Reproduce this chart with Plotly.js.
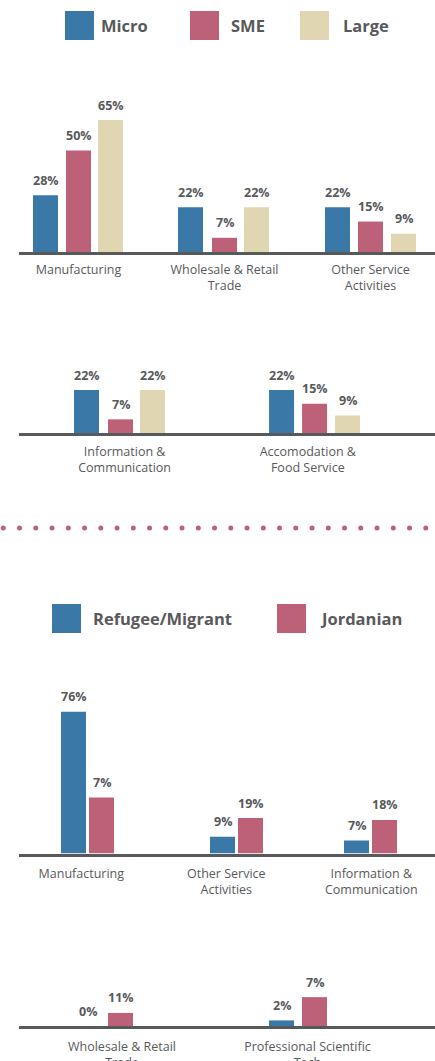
<!DOCTYPE html>
<html><head><meta charset="utf-8">
<script src="https://cdn.plot.ly/plotly-3.0.1.min.js"></script>
<style>html,body{margin:0;padding:0;background:#fff;overflow:hidden}#chart{width:435px;height:1061px}</style>
</head><body><div id="chart"></div>
<script>
// ---------- DATA: chart 1 (business size) ----------
const sizeSeries = ['Micro', 'SME', 'Large'];
const sectorsTopRow = ['Manufacturing', 'Wholesale & Retail<br>Trade', 'Other Service<br>Activities'];
const microTop = [28, 22, 22];
const smeTop = [50, 7, 15];
const largeTop = [65, 22, 9];
const sectorsBottomRow = ['Information &<br>Communication', 'Accomodation &<br>Food Service'];
const microBottom = [22, 22];
const smeBottom = [7, 15];
const largeBottom = [22, 9];

// ---------- DATA: chart 2 (nationality) ----------
const nationSeries = ['Refugee/Migrant', 'Jordanian'];
const sectors2Top = ['Manufacturing', 'Other Service<br>Activities', 'Information &<br>Communication'];
const refugeeTop = [76, 9, 7];
const jordanianTop = [30, 19, 18];          // bar heights as drawn
const refugeeTopLabels = ['76%', '9%', '7%'];
const jordanianTopLabels = ['7%', '19%', '18%'];
const sectors2Bottom = ['Wholesale & Retail<br>Trade', 'Professional Scientific<br>Tech'];
const refugeeBottom = [0, 3];               // bar heights as drawn
const jordanianBottom = [7, 15.5];
const refugeeBottomLabels = ['0%', '2%'];
const jordanianBottomLabels = ['11%', '7%'];

const pct = a => a.map(v => v + '%');

// ---------- STYLE / LAYOUT ----------
const W = 435, H = 1061;
const BLUE = '#3a78a7', PINK = '#bd6179', BEIGE = '#e0d6b2', GREY = '#58595b';
const FONT = 'Open Sans, Roboto, sans-serif';
const BAR_W = 25;

const panels = [
  { cats: sectorsTopRow, x0: 19, tick0: 78.5, ppu: 146, base: 252, top: 95, ppv: 2.03, standoff: 4,
    series: [
      { name: sizeSeries[0], vals: microTop, labels: pct(microTop), color: BLUE, off: [-45.5, -46.5, -45.5] },
      { name: sizeSeries[1], vals: smeTop, labels: pct(smeTop), color: PINK, off: [-12.5, -12.5, -12.5] },
      { name: sizeSeries[2], vals: largeTop, labels: pct(largeTop), color: BEIGE, off: [19.5, 19.5, 20.5] } ] },
  { cats: sectorsBottomRow, x0: 19, tick0: 124.6, ppu: 183.2, base: 433, top: 360, ppv: 1.95, standoff: 5,
    series: [
      { name: sizeSeries[0], vals: microBottom, labels: pct(microBottom), color: BLUE, off: [-50.6, -38.75] },
      { name: sizeSeries[1], vals: smeBottom, labels: pct(smeBottom), color: PINK, off: [-16.6, -5.75] },
      { name: sizeSeries[2], vals: largeBottom, labels: pct(largeBottom), color: BEIGE, off: [15.4, 27.25] } ] },
  { cats: sectors2Top, x0: 19, tick0: 81.3, ppu: 145, base: 853.5, top: 680, ppv: 1.864, standoff: 6,
    series: [
      { name: nationSeries[0], vals: refugeeTop, labels: refugeeTopLabels, color: BLUE, off: [-20.3, -16.3, -27.3] },
      { name: nationSeries[1], vals: jordanianTop, labels: jordanianTopLabels, color: PINK, off: [7.7, 11.7, 0.7] } ] },
  { cats: sectors2Bottom, x0: 19, tick0: 122, ppu: 185.5, base: 1026, top: 960, ppv: 1.864, standoff: 7,
    series: [
      { name: nationSeries[0], vals: refugeeBottom, labels: refugeeBottomLabels, color: BLUE, off: [-46.8, -38.5] },
      { name: nationSeries[1], vals: jordanianBottom, labels: jordanianBottomLabels, color: PINK, off: [-14, -5.5] } ] }
];

const traces = [];
const annotations = [];
const shapes = [];
const layout = {
  width: W, height: H, margin: { l: 0, r: 0, t: 0, b: 0 },
  paper_bgcolor: '#fff', plot_bgcolor: 'rgba(0,0,0,0)',
  barmode: 'overlay', showlegend: false, hovermode: false,
  font: { family: FONT, color: GREY }
};

panels.forEach((p, k) => {
  const n = k === 0 ? '' : String(k + 1);
  const r0 = -(p.tick0 - p.x0) / p.ppu;
  layout['xaxis' + n] = {
    type: 'category', categoryorder: 'array', categoryarray: p.cats,
    domain: [p.x0 / W, 1], range: [r0, r0 + (W - p.x0) / p.ppu],
    anchor: 'y' + n, showline: true, linewidth: 3, linecolor: GREY,
    showgrid: false, zeroline: false, ticks: '', ticklabelstandoff: p.standoff,
    tickfont: { family: FONT, size: 12.5, color: GREY }, fixedrange: true
  };
  layout['yaxis' + n] = {
    domain: [1 - p.base / H, 1 - p.top / H], range: [0, (p.base - p.top) / p.ppv],
    anchor: 'x' + n, visible: false, showgrid: false, zeroline: false, fixedrange: true
  };
  p.series.forEach(s => {
    traces.push({
      type: 'bar', name: s.name, x: p.cats, y: s.vals,
      xaxis: 'x' + n, yaxis: 'y' + n,
      marker: { color: s.color, line: { width: 0 } },
      offset: s.off.map(o => o / p.ppu), width: BAR_W / p.ppu,
      hoverinfo: 'none', showlegend: false
    });
    s.vals.forEach((v, i) => {
      annotations.push({
        xref: 'x' + n, yref: 'y' + n, x: i + (s.off[i] + BAR_W / 2) / p.ppu, y: v,
        text: s.labels[i], showarrow: false, xanchor: 'center', yanchor: 'middle', yshift: 15,
        font: { family: FONT, size: 12.5, color: GREY, weight: 700 }
      });
    });
  });
});

// legends (drawn from series names)
const px = x => x / W, py = y => 1 - y / H;
function legend(names, colors, sqX, txtX, yTop) {
  names.forEach((nm, i) => {
    shapes.push({ type: 'rect', xref: 'paper', yref: 'paper',
      x0: px(sqX[i]), x1: px(sqX[i] + 29), y0: py(yTop + 29), y1: py(yTop),
      fillcolor: colors[i], line: { width: 0 } });
    annotations.push({ xref: 'paper', yref: 'paper', x: px(txtX[i]), y: py(yTop + 14.5),
      text: nm, showarrow: false, xanchor: 'left', yanchor: 'middle',
      font: { family: FONT, size: 16.5, color: GREY, weight: 700 } });
  });
}
legend(sizeSeries, [BLUE, PINK, BEIGE], [65, 190, 300], [99, 229, 341], 11);
legend(nationSeries, [BLUE, PINK], [52, 277], [91, 318], 604);

// dotted separator
for (let i = 0; i < 27; i++) {
  const cx = 3.3 + i * 16.25, r = 2.5, cy = 528;
  shapes.push({ type: 'circle', xref: 'paper', yref: 'paper',
    x0: px(cx - r), x1: px(cx + r), y0: py(cy + r), y1: py(cy - r),
    fillcolor: PINK, line: { width: 0 } });
}

layout.annotations = annotations;
layout.shapes = shapes;

Plotly.newPlot('chart', traces, layout, { staticPlot: true, displayModeBar: false });
</script>
</body></html>
